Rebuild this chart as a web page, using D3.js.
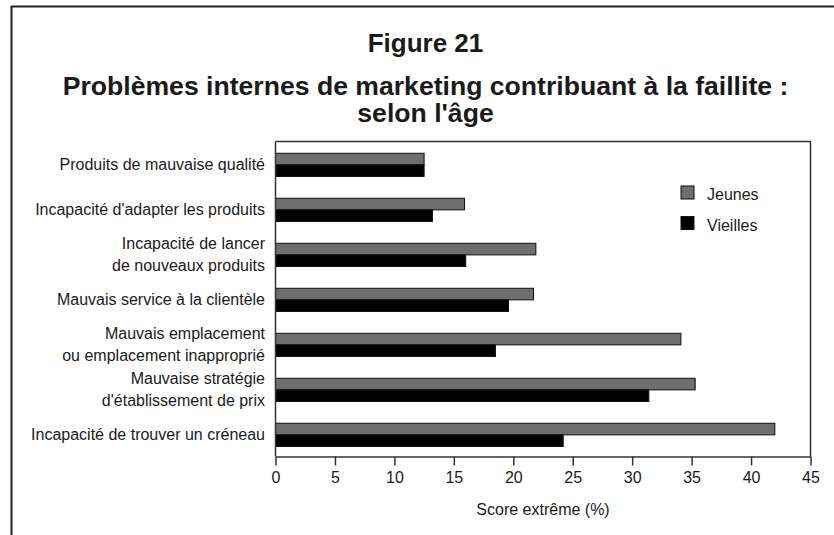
<!DOCTYPE html>
<html>
<head>
<meta charset="utf-8">
<script src="https://cdn.jsdelivr.net/npm/d3@7"></script>
<style>
  html, body { margin: 0; padding: 0; background: #fff; }
  svg { display: block; font-family: "Liberation Sans", Arial, Helvetica, sans-serif; }
</style>
</head>
<body>
<svg id="chart" width="834" height="535"></svg>
<script>
// Categories, top to bottom; "\n" separates label lines
const categories = [
  "Produits de mauvaise qualité",
  "Incapacité d'adapter les produits",
  "Incapacité de lancer\nde nouveaux produits",
  "Mauvais service à la clientèle",
  "Mauvais emplacement\nou emplacement inapproprié",
  "Mauvaise stratégie\nd'établissement de prix",
  "Incapacité de trouver un créneau"
];
const seriesNames = ["Jeunes", "Vieilles"];
const jeunes   = [12.5, 15.9, 21.9, 21.7, 34.1, 35.3, 42.0];
const vieilles = [12.5, 13.2, 16.0, 19.6, 18.5, 31.4, 24.2];
const xTicks = [0, 5, 10, 15, 20, 25, 30, 35, 40, 45];
const titleLines = ["Figure 21", "Problèmes internes de marketing contribuant à la faillite :", "selon l'âge"];
const xAxisTitle = "Score extrême (%)";

const colors = { Jeunes: "#6e6e6e", Vieilles: "#000000" };
const values = { Jeunes: jeunes, Vieilles: vieilles };

const svg = d3.select("#chart");

// Outer frame (top and left edges)
svg.append("path")
  .attr("d", "M11.5,540 V6.5 H840")
  .attr("fill", "none")
  .attr("stroke", "#222")
  .attr("stroke-width", 2);

// Titles
const titleY = [52, 94.5, 122];
svg.selectAll("text.title")
  .data(titleLines)
  .join("text")
  .attr("class", "title")
  .attr("x", 425.5)
  .attr("y", (d, i) => titleY[i])
  .attr("text-anchor", "middle")
  .attr("font-weight", "bold")
  .attr("font-size", (d, i) => i === 0 ? 26 : 26.6)
  .attr("fill", "#1a1a1a")
  .text(d => d);

// Plot area
const plotLeft = 275.5, plotRight = 810.5, plotTop = 141.5, plotBottom = 456.5;

const x = d3.scaleLinear().domain([0, 45]).range([plotLeft, plotRight]);
const y = d3.scaleBand().domain(categories).range([plotTop, plotBottom]).padding(0);
const ySub = d3.scaleBand().domain(seriesNames)
  .range([0, y.bandwidth()])
  .paddingInner(0)
  .paddingOuter(0.94)
  .align(0.54);

// Plot box top and right edges
svg.append("path")
  .attr("d", `M${plotLeft},${plotTop} H${plotRight} V${plotBottom}`)
  .attr("fill", "none")
  .attr("stroke", "#333")
  .attr("stroke-width", 1.5);

// Bars
const groups = svg.append("g").selectAll("g")
  .data(categories)
  .join("g")
  .attr("transform", d => `translate(0,${y(d)})`);

groups.selectAll("rect")
  .data((d, i) => seriesNames.map(s => ({ s, v: values[s][i] })))
  .join("rect")
  .attr("x", x(0))
  .attr("y", d => ySub(d.s))
  .attr("width", d => x(d.v) - x(0))
  .attr("height", ySub.bandwidth())
  .attr("fill", d => colors[d.s])
  .attr("stroke", "#111")
  .attr("stroke-width", 1);

// X axis
const xAxis = svg.append("g")
  .attr("transform", `translate(0,${plotBottom})`)
  .call(d3.axisBottom(x).tickValues(xTicks).tickSize(9).tickPadding(6).tickSizeOuter(0));
xAxis.select(".domain").attr("stroke", "#333").attr("stroke-width", 1.5);
xAxis.selectAll(".tick line").attr("stroke", "#333").attr("stroke-width", 1.5);
xAxis.selectAll(".tick text")
  .attr("font-family", "Liberation Sans, Arial, sans-serif")
  .attr("font-size", 16)
  .attr("fill", "#1a1a1a");

// Y axis line (no ticks)
svg.append("line")
  .attr("x1", plotLeft).attr("x2", plotLeft)
  .attr("y1", plotTop).attr("y2", plotBottom)
  .attr("stroke", "#333")
  .attr("stroke-width", 1.5);

// Category labels
const lineH = 21.5;
const labels = svg.append("g").selectAll("text")
  .data(categories)
  .join("text")
  .attr("text-anchor", "end")
  .attr("font-size", 16)
  .attr("fill", "#1a1a1a");
labels.each(function (d) {
  const lines = d.split("\n");
  const cy = y(d) + y.bandwidth() / 2 + 6;
  const y0 = cy - (lines.length - 1) * lineH / 2;
  d3.select(this).selectAll("tspan")
    .data(lines)
    .join("tspan")
    .attr("x", 265)
    .attr("y", (l, j) => y0 + j * lineH)
    .text(l => l);
});

// Axis title
svg.append("text")
  .attr("x", (plotLeft + plotRight) / 2)
  .attr("y", 515)
  .attr("text-anchor", "middle")
  .attr("font-size", 16)
  .attr("fill", "#1a1a1a")
  .text(xAxisTitle);

// Legend
const legend = svg.append("g").selectAll("g")
  .data(seriesNames)
  .join("g")
  .attr("transform", (d, i) => `translate(681,${186 + i * 30.5})`);
legend.append("rect")
  .attr("width", 13).attr("height", 13)
  .attr("fill", d => colors[d])
  .attr("stroke", "#111")
  .attr("stroke-width", 1);
legend.append("text")
  .attr("x", 26)
  .attr("y", 14)
  .attr("font-size", 16)
  .attr("fill", "#1a1a1a")
  .text(d => d);
</script>
</body>
</html>
